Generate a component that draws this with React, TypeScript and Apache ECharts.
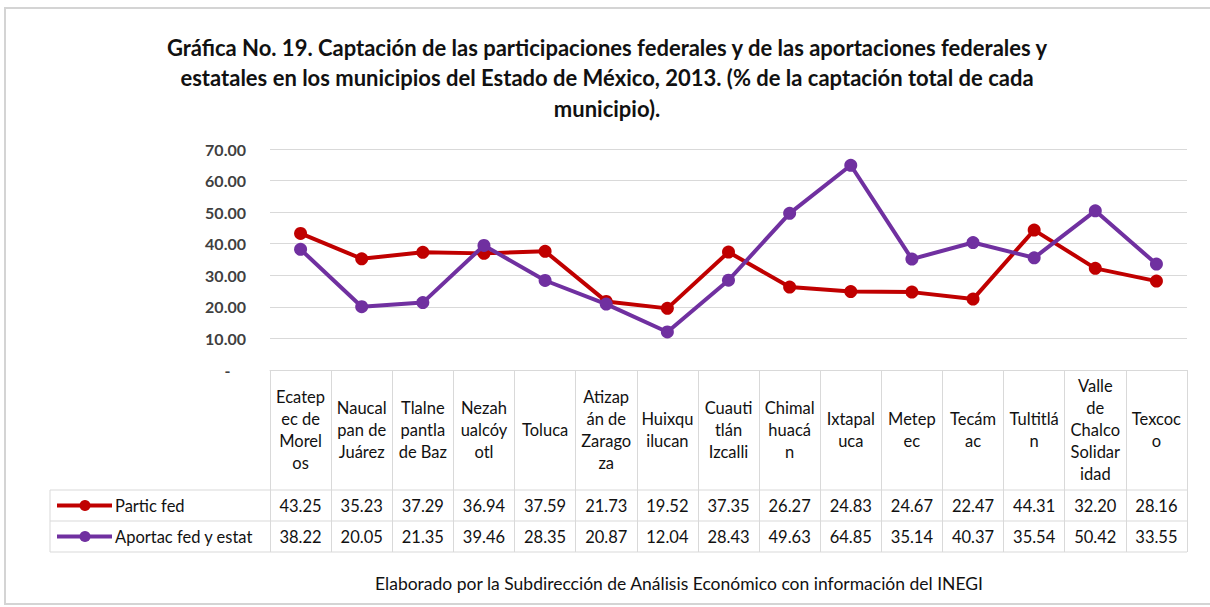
import React, { useEffect, useRef } from 'react';
import * as echarts from 'echarts';

const titleLines = [
  'Gráfica No. 19. Captación de las participaciones federales y de las aportaciones federales y',
  'estatales en los municipios del Estado de México, 2013. (% de la captación total de cada',
  'municipio).',
];
const footerText = 'Elaborado por la Subdirección de Análisis Económico con información del INEGI';

const categories = [
  'Ecatepec de Morelos', 'Naucalpan de Juárez', 'Tlalnepantla de Baz', 'Nezahualcóyotl', 'Toluca',
  'Atizapán de Zaragoza', 'Huixquilucan', 'Cuautitlán Izcalli', 'Chimalhuacán', 'Ixtapaluca',
  'Metepec', 'Tecámac', 'Tultitlán', 'Valle de Chalco Solidaridad', 'Texcoco',
];
const headerLabels = [
  'Ecatep\nec de\nMorel\nos', 'Naucal\npan de\nJuárez', 'Tlalne\npantla\nde Baz', 'Nezah\nualcóy\notl', 'Toluca',
  'Atizap\nán de\nZarago\nza', 'Huixqu\nilucan', 'Cuauti\ntlán\nIzcalli', 'Chimal\nhuacá\nn', 'Ixtapal\nuca',
  'Metep\nec', 'Tecám\nac', 'Tultitlá\nn', 'Valle\nde\nChalco\nSolidar\nidad', 'Texcoc\no',
];
const seriesNames = ['Partic fed', 'Aportac fed y estat'];
const particFed = [43.25, 35.23, 37.29, 36.94, 37.59, 21.73, 19.52, 37.35, 26.27, 24.83, 24.67, 22.47, 44.31, 32.2, 28.16];
const aportacFedEstat = [38.22, 20.05, 21.35, 39.46, 28.35, 20.87, 12.04, 28.43, 49.63, 64.85, 35.14, 40.37, 35.54, 50.42, 33.55];
const seriesColors = ['#C00000', '#7030A0'];

const FONT = 'Lato, "Open Sans", sans-serif';
const GRID_COLOR = '#d9d9d9';
const TEXT = '#111111';
const FS = 16.5;

export default function App() {
  const ref = useRef<HTMLDivElement>(null);
  useEffect(() => {
    document.body.style.margin = '0';
    const chart = echarts.init(ref.current as HTMLDivElement, null, { renderer: 'svg' });
    const seriesData = [particFed, aportacFedEstat];
    chart.setOption({
      animation: false,
      backgroundColor: '#ffffff',
      grid: { left: 270, right: 23, top: 149, bottom: 237 },
      xAxis: {
        type: 'category',
        data: categories,
        boundaryGap: true,
        axisLine: { show: true, lineStyle: { color: GRID_COLOR, width: 1 } },
        axisTick: { show: true, length: 182, lineStyle: { color: GRID_COLOR } },
        axisLabel: {
          interval: 0,
          formatter: (_v: string, i: number) => headerLabels[i],
          margin: 60,
          verticalAlign: 'middle',
          lineHeight: 22,
          fontSize: FS,
          color: TEXT,
          fontFamily: FONT,
        },
      },
      yAxis: {
        type: 'value',
        min: 0,
        max: 70,
        interval: 10,
        axisLine: { show: false },
        axisTick: { show: false },
        splitLine: { lineStyle: { color: GRID_COLOR } },
        axisLabel: {
          formatter: (v: number) => (v === 0 ? '-    ' : v.toFixed(2)),
          margin: 24,
          fontSize: 16,
          fontWeight: 'bold',
          color: '#404040',
          fontFamily: FONT,
        },
      },
      series: seriesNames.map((name, k) => ({
        name,
        type: 'line',
        data: seriesData[k],
        symbol: 'circle',
        symbolSize: 13,
        lineStyle: { width: 4, color: seriesColors[k] },
        itemStyle: { color: seriesColors[k] },
        z: k === 1 ? 3 : 2,
      })),
    });

    const xs = categories.map((_, i) => chart.convertToPixel({ xAxisIndex: 0 }, i) as number);
    const y0 = chart.convertToPixel({ yAxisIndex: 0 }, 0) as number;
    const colW = xs.length > 1 ? xs[1] - xs[0] : 60;
    const right = xs[xs.length - 1] + colW / 2;
    const tableLeft = 50;
    const headerH = 120;
    const rowH = 31;
    const rowTops = [y0 + headerH, y0 + headerH + rowH, y0 + headerH + 2 * rowH];

    const graphics: any[] = [];
    graphics.push({
      type: 'rect',
      shape: { x: 5, y: 8, width: 1215, height: 596 },
      style: { fill: 'none', stroke: '#d4d4d4', lineWidth: 2 },
      silent: true,
      z: 0,
    });
    titleLines.forEach((line, i) => {
      graphics.push({
        type: 'text',
        x: 607,
        y: 47 + i * 30.5,
        style: { text: line, fontSize: 22, fontWeight: 'bold', fontFamily: FONT, fill: TEXT, align: 'center', verticalAlign: 'middle' },
        silent: true,
      });
    });
    rowTops.forEach((y) => {
      graphics.push({
        type: 'line',
        shape: { x1: tableLeft, y1: y, x2: right, y2: y },
        style: { stroke: GRID_COLOR, lineWidth: 1 },
        silent: true,
      });
    });
    graphics.push({
      type: 'line',
      shape: { x1: tableLeft, y1: rowTops[0], x2: tableLeft, y2: rowTops[2] },
      style: { stroke: GRID_COLOR, lineWidth: 1 },
      silent: true,
    });
    seriesNames.forEach((name, k) => {
      const cy = rowTops[k] + rowH / 2;
      graphics.push({
        type: 'line',
        shape: { x1: 57, y1: cy, x2: 112, y2: cy },
        style: { stroke: seriesColors[k], lineWidth: 4 },
        silent: true,
      });
      graphics.push({
        type: 'circle',
        shape: { cx: 85, cy, r: 5.5 },
        style: { fill: seriesColors[k] },
        silent: true,
      });
      graphics.push({
        type: 'text',
        x: 115,
        y: cy,
        style: { text: name, fontSize: FS, fontFamily: FONT, fill: TEXT, align: 'left', verticalAlign: 'middle' },
        silent: true,
      });
      seriesData[k].forEach((v, i) => {
        graphics.push({
          type: 'text',
          x: xs[i],
          y: cy,
          style: { text: v.toFixed(2), fontSize: FS, fontFamily: FONT, fill: TEXT, align: 'center', verticalAlign: 'middle' },
          silent: true,
        });
      });
    });
    graphics.push({
      type: 'text',
      x: 679,
      y: 583,
      style: { text: footerText, fontSize: 17.5, fontFamily: FONT, fill: TEXT, align: 'center', verticalAlign: 'middle' },
      silent: true,
    });
    chart.setOption({ graphic: graphics });

    return () => chart.dispose();
  }, []);
  return <div ref={ref} style={{ width: 1210, height: 607 }} />;
}
